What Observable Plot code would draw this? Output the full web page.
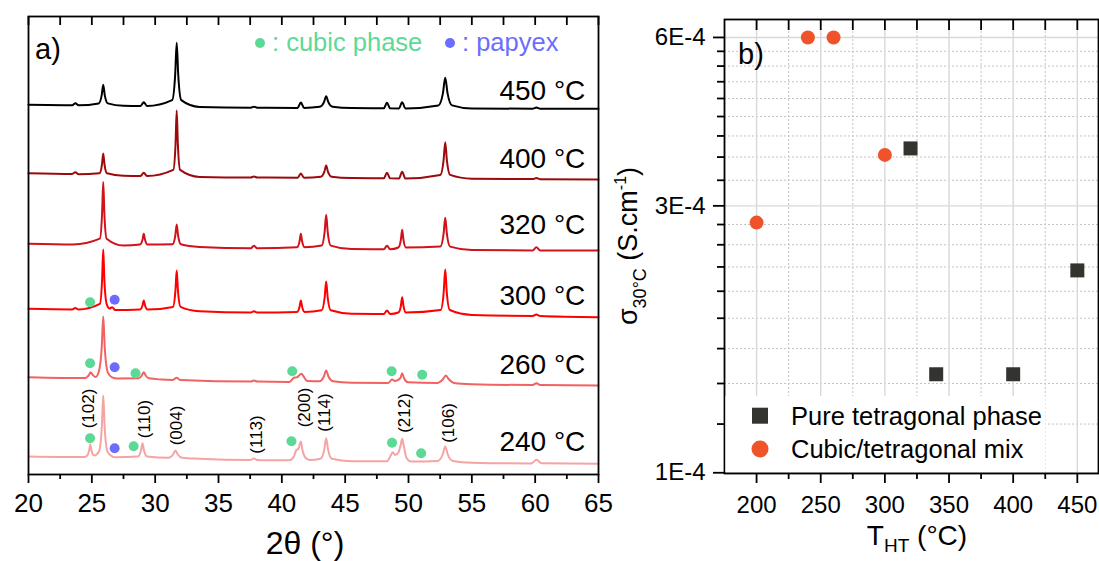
<!DOCTYPE html>
<html><head><meta charset="utf-8">
<script src="https://cdn.jsdelivr.net/npm/d3@7"></script>
<script src="https://cdn.jsdelivr.net/npm/@observablehq/plot@0.6"></script>
<style>
html,body{margin:0;padding:0;background:#fff;}
#wrap{position:relative;width:1099px;height:561px;overflow:hidden;font-family:"Liberation Sans",Arial,sans-serif;}
#wrap > svg{position:absolute;top:0;max-width:none;}
</style></head><body><div id="wrap"></div>
<script>
// ---------- Panel a: XRD patterns (2θ in °, intensity in a.u., stacked) ----------
const xrd450 = [[20,369.7],[23.45,369.3],[23.7,371.3],[23.95,369.2],[25.54,371.1],[25.78,379.4],[25.9,389.7],[26.02,379.4],[26.26,371.1],[27.5,368.7],[28.85,368.5],[29.1,372.3],[29.35,368.5],[31.34,374.4],[31.58,399.9],[31.7,431.7],[31.82,399.9],[32.06,374.4],[33.5,367.6],[37.55,366.8],[37.8,367.8],[38.05,366.8],[41.25,366.6],[41.5,372],[41.75,366.6],[42.99,367.7],[43.33,372.4],[43.5,378.3],[43.67,372.4],[44.01,367.7],[45.5,366.4],[48.05,366.2],[48.3,371.7],[48.55,366.2],[49.25,366.1],[49.5,372.3],[49.75,366.1],[52.36,369.1],[52.72,381.4],[52.9,396.7],[53.08,381.4],[53.44,369.1],[55,366],[59.8,365.8],[60.1,367],[60.4,365.8],[65,365.7]];
const xrd400 = [[20,301.3],[23.45,300.5],[23.7,302.3],[23.95,300.2],[25.6,301.2],[25.8,310],[25.9,321],[26.0,310],[26.2,301.2],[27.5,298.7],[28.85,298.5],[29.1,301.7],[29.35,298.5],[31.43,304.6],[31.61,331],[31.7,364],[31.79,331],[31.97,304.6],[33.5,297.6],[37.55,297],[37.8,298],[38.05,297],[41.25,296.8],[41.5,301],[41.75,296.8],[43.08,297.8],[43.36,302.8],[43.5,309],[43.64,302.8],[43.92,297.8],[45.5,296.4],[48.05,296.2],[48.3,301.7],[48.55,296.2],[49.25,296.1],[49.5,302.7],[49.75,296.1],[52.51,299.6],[52.77,314.2],[52.9,332.3],[53.03,314.2],[53.29,299.6],[55,295.8],[59.8,295.4],[60.1,296.5],[60.4,295.3],[65,295]];
const xrd320 = [[20,230.7],[23.5,230],[25.63,235.8],[25.81,261],[25.9,292.5],[25.99,261],[26.17,235.8],[27.5,229],[28.8,229.9],[29.0,234.7],[29.1,240.7],[29.2,234.7],[29.4,229.9],[31.37,230.2],[31.59,239],[31.7,250],[31.81,239],[32.03,230.2],[33.5,227.6],[37.55,226.3],[37.8,228.7],[38.05,226.3],[41.2,227.3],[41.4,233.3],[41.5,240.8],[41.6,233.3],[41.8,227.3],[43.14,228.9],[43.38,242.6],[43.5,259.7],[43.62,242.6],[43.86,228.9],[45.5,225.4],[48.05,225.2],[48.3,228.7],[48.55,225.2],[49.2,227],[49.4,234.9],[49.5,244.7],[49.6,234.9],[49.8,227],[52.51,227.9],[52.77,240.7],[52.9,256.7],[53.03,240.7],[53.29,227.9],[55,224.5],[59.8,224.1],[60.1,227.3],[60.4,224],[65,224]];
const xrd300 = [[20,165.7],[23.45,165.1],[23.7,166.6],[23.95,165],[25.63,170.6],[25.81,194.8],[25.9,225],[25.99,194.8],[26.17,170.6],[26.4,166],[26.6,167.3],[26.85,164.4],[28.8,165],[29.0,169],[29.1,174],[29.2,169],[29.4,165],[31.4,167.6],[31.6,183.8],[31.7,204],[31.8,183.8],[32.0,167.6],[33.5,163.2],[37.55,162],[37.8,163.3],[38.05,162],[41.2,162.6],[41.4,167.7],[41.5,174],[41.6,167.7],[41.8,162.6],[43.14,164.2],[43.38,177],[43.5,193],[43.62,177],[43.86,164.2],[45.5,160.8],[48.05,160.5],[48.3,164],[48.55,160.5],[49.2,162],[49.4,168.8],[49.5,177.3],[49.6,168.8],[49.8,162],[52.54,164.5],[52.78,182.5],[52.9,205],[53.02,182.5],[53.26,164.5],[55,159.6],[59.8,158.6],[60.1,159.9],[60.4,158.5],[65,157.3]];
const xrd260 = [[20,97.3],[24.5,96.4],[24.6,97.2],[24.8,100],[24.9,102.3],[25.05,100],[25.3,97.5],[25.54,102.2],[25.78,127],[25.9,158],[26.02,127],[26.26,102.2],[26.6,97.2],[27,96],[28.7,96.2],[28.95,99],[29.1,102.3],[29.25,99],[29.5,96.2],[30.5,95],[31.4,94.6],[31.7,96.7],[32.0,94.5],[37.55,93],[37.8,94],[38.05,93],[40.6,92.6],[41.0,97],[41.2,97.2],[41.4,99.5],[41.55,100.7],[41.7,98.5],[42.0,93.5],[42.96,93.2],[43.32,98],[43.5,104],[43.68,98],[44.04,93.2],[45.5,91.8],[48.4,91.5],[48.7,95],[48.95,93.5],[49.35,96.2],[49.5,101.3],[49.65,96.2],[49.95,92.2],[52.25,91.5],[52.7,95],[52.95,99],[53.2,95],[53.6,91.5],[55,90.3],[59.8,89.5],[60.1,91.3],[60.4,89.5],[65,89]];
const xrd240 = [[20,18],[24.4,17.4],[24.6,18.6],[24.78,23.6],[24.88,30],[24.98,23.6],[25.2,19],[25.57,23.2],[25.79,48],[25.9,79],[26.01,48],[26.23,23.2],[26.5,19],[26.8,17.3],[28.64,18],[28.88,23.9],[29.0,31.3],[29.12,23.9],[29.36,18],[31.06,16.8],[31.42,20],[31.6,24],[31.78,20],[32.14,16.8],[33.5,15.8],[37.5,14.5],[37.8,16],[38.1,14.4],[40.6,14.2],[40.95,18],[41.15,24.5],[41.3,25.5],[41.5,33],[41.62,25],[41.85,17],[42.2,14.5],[43.05,15.8],[43.35,24.9],[43.5,36.3],[43.65,24.9],[43.95,15.8],[45.5,13.3],[48.3,13.2],[48.6,19],[48.75,22.3],[48.95,19.5],[49.2,22],[49.38,29.1],[49.5,35.7],[49.62,29.1],[49.85,16.5],[50.2,13],[52.3,13.6],[52.7,20],[52.9,28],[53.1,20],[53.5,13.6],[55,11.8],[59.7,11.1],[60.1,14.7],[60.5,11.2],[65,10.7]];

const tempNames = ["450 °C","400 °C","320 °C","300 °C","260 °C","240 °C"];
const tempLabelIntensity = [375, 306.3, 240.7, 170, 100.7, 24];

const cubicMarks = [[24.86,172.3],[24.86,111.3],[28.45,101.3],[40.82,103.3],[48.67,103.3],[51.08,99.7],[24.86,36.3],[28.3,28.3],[40.76,33.3],[48.7,31.7],[51.0,21.3]];
const papyexMarks = [[26.8,174.7],[26.8,107.3],[26.8,26.3]];

const millerNames = ["(102)","(110)","(004)","(113)","(200)","(114)","(212)","(106)"];
const millerTwoTheta = [24.71, 29.14, 31.7, 37.98, 41.8, 43.4, 49.66, 53.14];
const millerIntensity = [66, 55.5, 49, 40, 67, 62, 61.5, 51.5];

const xTicksA = [20,25,30,35,40,45,50,55,60,65];
const xMinorA = [22.5,27.5,32.5,37.5,42.5,47.5,52.5,57.5,62.5];

// ---------- Panel b: conductivity at 30 °C vs heat-treatment temperature ----------
const legendNames = ["Pure tetragonal phase","Cubic/tetragonal mix"];
const thtPure = [320, 340, 400, 450];
const sigmaPure = [3.80e-4, 1.50e-4, 1.50e-4, 2.30e-4];
const thtMix = [200, 240, 260, 300];
const sigmaMix = [2.80e-4, 6.0e-4, 6.0e-4, 3.70e-4];

const xTicksB = [200,250,300,350,400,450];
const xMinorB = [225,275,325,375,425];
const yTicksB = [1e-4, 3e-4, 6e-4];
const yTickLabelsB = ["1E-4","3E-4","6E-4"];
const yMinorB = [1.222e-4,1.444e-4,1.667e-4,1.889e-4,2.111e-4,2.333e-4,2.556e-4,2.778e-4,3.333e-4,3.667e-4,4e-4,4.333e-4,4.667e-4,5e-4,5.333e-4,5.667e-4];

// ---------- styles ----------
const FONT = "'Liberation Sans', Arial, sans-serif";
const traceColors = ["#000000","#9c0a0e","#d0121a","#ff0000","#f26262","#f6a3a3"];
const GREEN = "#5dd996", BLUE = "#6c6cff", ORANGE = "#f0522a", DARK = "#333330";

const traces = [xrd450, xrd400, xrd320, xrd300, xrd260, xrd240];
const tempLabels = tempNames.map((t, i) => ({t, x: 63.96, y: tempLabelIntensity[i]}));
const miller = millerNames.map((t, i) => ({t, x: millerTwoTheta[i], y: millerIntensity[i]}));

const A = {w: 620, h: 561, l: 28, r: 22, t: 16, b: 87};
const plotA = Plot.plot({
  width: A.w, height: A.h,
  marginLeft: A.l, marginRight: A.r, marginTop: A.t, marginBottom: A.b,
  x: {domain: [20, 65]},
  y: {domain: [0, 458], axis: null},
  style: {fontFamily: FONT, color: "#000", background: "transparent", overflow: "visible"},
  marks: [
    ...traces.map((tr, i) => Plot.line(tr, {x: d => d[0], y: d => d[1], stroke: traceColors[i], strokeWidth: 2, curve: "monotone-x"})),
    Plot.dot(cubicMarks, {x: d => d[0], y: d => d[1], r: 5, fill: GREEN}),
    Plot.dot(papyexMarks, {x: d => d[0], y: d => d[1], r: 5, fill: BLUE}),
    Plot.text(miller, {x: "x", y: "y", text: "t", rotate: -90, fontSize: 17, fill: "#000"}),
    Plot.text(tempLabels, {x: "x", y: "y", text: "t", textAnchor: "end", lineAnchor: "bottom", fontSize: 28, fill: "#000"}),
    // inward ticks on the top edge
    Plot.ruleX([...xTicksA, ...xMinorA], {x: d => d, stroke: "#000", strokeWidth: 1.8, insetBottom: (A.h - A.t - A.b) - 9}),
    Plot.frame({stroke: "#000", strokeWidth: 1.8}),
    Plot.axisX(xTicksA, {tickSize: 9, tickPadding: 10, fontSize: 26, label: null, strokeWidth: 1.8}),
    Plot.axisX(xMinorA, {tickSize: 5, tickFormat: () => "", label: null, strokeWidth: 1.8})
  ]
});

const pure = thtPure.map((x, i) => ({x, y: sigmaPure[i]}));
const mix = thtMix.map((x, i) => ({x, y: sigmaMix[i]}));

const B = {w: 499, h: 561, l: 124, r: 1, t: 19, b: 88};
const plotB = Plot.plot({
  width: B.w, height: B.h,
  marginLeft: B.l, marginRight: B.r, marginTop: B.t, marginBottom: B.b,
  x: {domain: [175, 466.5]},
  y: {type: "log", domain: [0.997e-4, 6.46e-4]},
  style: {fontFamily: FONT, color: "#000", background: "transparent", overflow: "visible"},
  marks: [
    Plot.ruleX(xMinorB, {stroke: "#c4c4c4", strokeDasharray: "2,2", strokeWidth: 1}),
    Plot.ruleY(yMinorB, {stroke: "#c4c4c4", strokeDasharray: "2,2", strokeWidth: 1}),
    Plot.ruleX(xTicksB, {stroke: "#d8d8d8", strokeWidth: 1.4}),
    Plot.ruleY(yTicksB, {stroke: "#d8d8d8", strokeWidth: 1.4}),
    // inward ticks on the top edge
    Plot.ruleX([...xTicksB, ...xMinorB], {x: d => d, stroke: "#000", strokeWidth: 1.8, insetBottom: (B.h - B.t - B.b) - 11}),
    Plot.frame({stroke: "#000", strokeWidth: 1.8}),
    Plot.axisX(xTicksB, {tickSize: 10, tickPadding: 12, fontSize: 24, label: null, strokeWidth: 1.8}),
    Plot.axisX(xMinorB, {tickSize: 6, tickFormat: () => "", label: null, strokeWidth: 1.8}),
    Plot.axisY(yTicksB, {tickSize: 11, tickPadding: 8, fontSize: 24, label: null, strokeWidth: 1.8, tickFormat: d => yTickLabelsB[yTicksB.indexOf(d)]}),
    Plot.axisY(yMinorB, {tickSize: 7, tickFormat: () => "", label: null, strokeWidth: 1.8}),
    Plot.dot(pure, {x: "x", y: "y", symbol: "square", r: 7.9, fill: DARK}),
    Plot.dot(mix, {x: "x", y: "y", r: 7, fill: ORANGE})
  ]
});

const wrap = document.getElementById("wrap");
plotA.style.left = "0px";
plotB.style.left = "600px";
wrap.appendChild(plotA);
wrap.appendChild(plotB);

// ---------- overlay: panel letters, axis titles, legends ----------
const ov = d3.select(wrap).append("svg")
  .attr("width", 1099).attr("height", 561)
  .style("left", "0px").style("font-family", FONT);

ov.append("text").attr("x", 35).attr("y", 59).attr("font-size", 29).text("a)");
ov.append("text").attr("x", 738).attr("y", 64).attr("font-size", 29).text("b)");

// panel a phase legend
const phaseLegend = [{name: ": cubic phase", color: GREEN, cx: 260}, {name: ": papyex", color: BLUE, cx: 450}];
phaseLegend.forEach(p => {
  ov.append("circle").attr("cx", p.cx).attr("cy", 43).attr("r", 5).attr("fill", p.color);
  ov.append("text").attr("x", p.cx + 12).attr("y", 51).attr("font-size", 25.5).attr("fill", p.color).text(p.name);
});

// panel a x title
ov.append("text").attr("x", 305).attr("y", 554).attr("text-anchor", "middle").attr("font-size", 32).text("2θ (°)");

// panel b x title
const tx = ov.append("text").attr("x", 917).attr("y", 545).attr("text-anchor", "middle").attr("font-size", 28);
tx.append("tspan").text("T");
tx.append("tspan").attr("font-size", 19).attr("baseline-shift", "-7").text("HT");
tx.append("tspan").text(" (°C)");

// panel b y title
const ty = ov.append("text").attr("transform", "translate(637,246) rotate(-90)").attr("text-anchor", "middle").attr("font-size", 27);
ty.append("tspan").text("σ");
ty.append("tspan").attr("font-size", 18).attr("baseline-shift", "-9").text("30°C");
ty.append("tspan").text(" (S.cm");
ty.append("tspan").attr("font-size", 16).attr("baseline-shift", "11").text("-1");
ty.append("tspan").text(")");

// panel b legend
ov.append("rect").attr("x", 725.5).attr("y", 396).attr("width", 320).attr("height", 76).attr("fill", "#fff");
ov.append("rect").attr("x", 752).attr("y", 407.7).attr("width", 16).attr("height", 16).attr("fill", DARK);
ov.append("text").attr("x", 791).attr("y", 425).attr("font-size", 25.5).text(legendNames[0]);
ov.append("circle").attr("cx", 760).attr("cy", 449).attr("r", 8.5).attr("fill", ORANGE);
ov.append("text").attr("x", 791).attr("y", 458.3).attr("font-size", 25.5).text(legendNames[1]);
</script></body></html>
